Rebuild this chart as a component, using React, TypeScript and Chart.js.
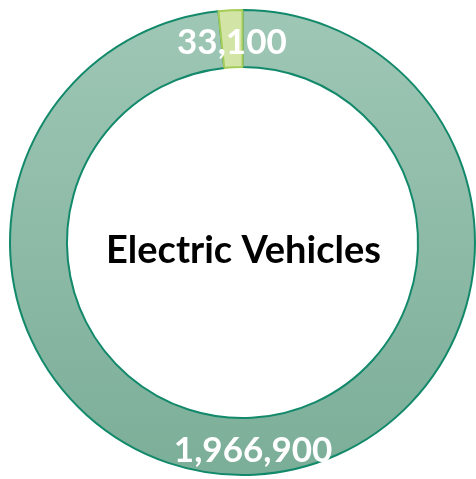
import React, { useEffect, useRef } from "react";
import { Chart, registerables } from "chart.js";

Chart.register(...registerables);

const categories = ["Other Vehicles", "Electric Vehicles"];
const values = [1966900, 33100];
const valueLabels = ["1,966,900", "33,100"];
const centerTitle = "Electric Vehicles";

const labelPlugin = {
  id: "ringLabels",
  afterDatasetsDraw(chart: any) {
    const { ctx } = chart;
    const meta = chart.getDatasetMeta(0);
    ctx.save();
    ctx.fillStyle = "#ffffff";
    ctx.font = "bold 35px Lato";
    ctx.textAlign = "center";
    ctx.textBaseline = "middle";
    meta.data.forEach((arc: any, i: number) => {
      const p = arc.tooltipPosition();
      ctx.fillText(valueLabels[i], p.x, p.y + 4);
    });
    const area = chart.chartArea;
    const cx = (area.left + area.right) / 2;
    const cy = (area.top + area.bottom) / 2;
    ctx.fillStyle = "#000000";
    ctx.font = "bold 38px Lato";
    ctx.fillText(centerTitle, cx + 1, cy + 8);
    ctx.restore();
  },
};

export default function App() {
  const ref = useRef<HTMLCanvasElement>(null);
  useEffect(() => {
    const canvas = ref.current!;
    const chart = new Chart(canvas, {
      type: "doughnut",
      data: {
        labels: categories,
        datasets: [
          {
            data: values,
            backgroundColor: (c: any) => {
              const ch = c.chart;
              const area = ch.chartArea;
              if (c.dataIndex === 1) return "#d2e5a7";
              if (!area) return "#8dbba7";
              const g = ch.ctx.createLinearGradient(0, area.top, 0, area.bottom);
              g.addColorStop(0, "#9fc7b6");
              g.addColorStop(1, "#7bae98");
              return g;
            },
            borderColor: ["#12896a", "#a6cc58"],
            borderWidth: 2,
          },
        ],
      },
      options: {
        responsive: false,
        animation: false,
        cutout: "75.5%",
        rotation: 0,
        layout: { padding: { left: 9, top: 9, right: 0, bottom: 3 } },
        plugins: {
          legend: { display: false },
          tooltip: { enabled: false },
        },
      },
      plugins: [labelPlugin],
    });
    return () => chart.destroy();
  }, []);
  return (
    <div style={{ position: "fixed", left: 0, top: 0, width: 476, height: 479, background: "#fff" }}>
      <canvas ref={ref} width={476} height={479} />
    </div>
  );
}
